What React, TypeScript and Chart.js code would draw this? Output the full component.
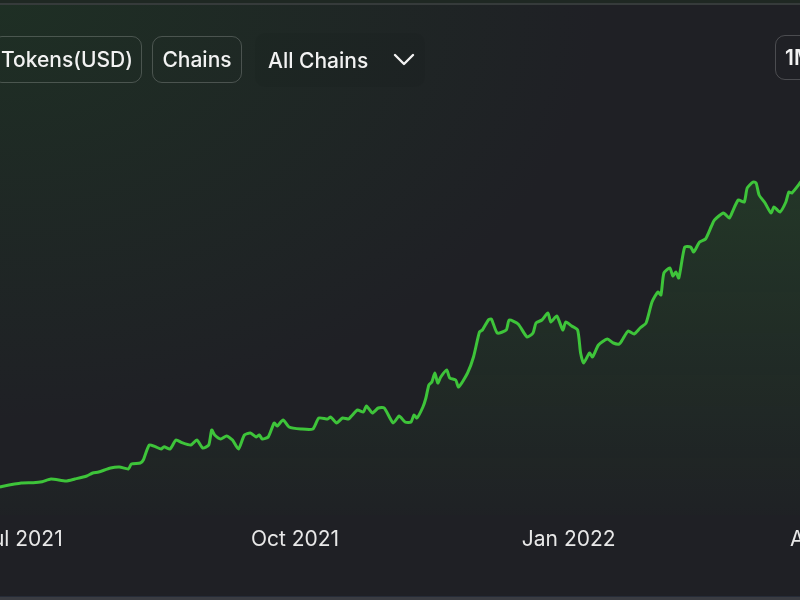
import React, { useEffect, useRef } from "react";
import { Chart, registerables } from "chart.js";

Chart.register(...registerables);

// Daily TVL samples (USD millions)
const dates: string[] = [
  "2021-06-23", "2021-06-24", "2021-07-01", "2021-07-05", "2021-07-08", "2021-07-11", "2021-07-16", "2021-07-19",
  "2021-07-23", "2021-07-25", "2021-07-27", "2021-07-31", "2021-08-03", "2021-08-06", "2021-08-07", "2021-08-10",
  "2021-08-11", "2021-08-13", "2021-08-15", "2021-08-17", "2021-08-18", "2021-08-20", "2021-08-22", "2021-08-24",
  "2021-08-27", "2021-08-29", "2021-08-31", "2021-09-02", "2021-09-03", "2021-09-04", "2021-09-06", "2021-09-08",
  "2021-09-10", "2021-09-12", "2021-09-14", "2021-09-16", "2021-09-18", "2021-09-19", "2021-09-20", "2021-09-22",
  "2021-09-24", "2021-09-25", "2021-09-27", "2021-09-29", "2021-10-03", "2021-10-07", "2021-10-09", "2021-10-12",
  "2021-10-13", "2021-10-15", "2021-10-17", "2021-10-19", "2021-10-20", "2021-10-22", "2021-10-24", "2021-10-25",
  "2021-10-27", "2021-10-29", "2021-10-31", "2021-11-03", "2021-11-05", "2021-11-07", "2021-11-09", "2021-11-10",
  "2021-11-11", "2021-11-13", "2021-11-14", "2021-11-15", "2021-11-16", "2021-11-17", "2021-11-18", "2021-11-19",
  "2021-11-21", "2021-11-22", "2021-11-24", "2021-11-25", "2021-11-28", "2021-11-30", "2021-12-02", "2021-12-03",
  "2021-12-05", "2021-12-06", "2021-12-08", "2021-12-11", "2021-12-12", "2021-12-15", "2021-12-18", "2021-12-20",
  "2021-12-21", "2021-12-23", "2021-12-25", "2021-12-26", "2021-12-28", "2021-12-30", "2021-12-31", "2022-01-02",
  "2022-01-04", "2022-01-05", "2022-01-06", "2022-01-08", "2022-01-09", "2022-01-11", "2022-01-14", "2022-01-16",
  "2022-01-18", "2022-01-19", "2022-01-21", "2022-01-23", "2022-01-25", "2022-01-27", "2022-01-29", "2022-01-31",
  "2022-02-01", "2022-02-02", "2022-02-04", "2022-02-05", "2022-02-06", "2022-02-07", "2022-02-09", "2022-02-11",
  "2022-02-12", "2022-02-14", "2022-02-16", "2022-02-18", "2022-02-19", "2022-02-22", "2022-02-24", "2022-02-25",
  "2022-02-27", "2022-03-01", "2022-03-02", "2022-03-04", "2022-03-05", "2022-03-06", "2022-03-08", "2022-03-10",
  "2022-03-11", "2022-03-13", "2022-03-15", "2022-03-16", "2022-03-17", "2022-03-20", "2022-03-21", "2022-03-23",
];

const tvl: number[] = [
  275, 283, 320, 323, 333, 360, 340, 360,
  390, 420, 430, 470, 480, 460, 510, 520,
  550, 700, 683, 660, 683, 660, 750, 723,
  700, 750, 670, 700, 850, 800, 760, 790,
  750, 660, 800, 820, 780, 800, 760, 780,
  920, 890, 950, 880, 860, 860, 970, 960,
  980, 920, 970, 960, 990, 1050, 1030, 1090,
  1020, 1070, 1070, 920, 990, 930, 930, 1000,
  970, 1080, 1170, 1300, 1330, 1420, 1320, 1380,
  1450, 1370, 1350, 1280, 1420, 1580, 1830, 1850,
  1950, 1960, 1820, 1850, 1950, 1910, 1780, 1820,
  1920, 1950, 2020, 1930, 1990, 1850, 1930, 1890,
  1850, 1620, 1520, 1620, 1580, 1700, 1760, 1720,
  1710, 1750, 1840, 1810, 1870, 1920, 2130, 2230,
  2200, 2420, 2470, 2390, 2430, 2370, 2680, 2680,
  2630, 2730, 2760, 2890, 2950, 3020, 2970, 3030,
  3150, 3130, 3270, 3330, 3320, 3200, 3120, 3020,
  3080, 3030, 3130, 3230, 3220, 3330, 3370, 3400,
];

const monthNames: string[] = ["Jan", "Feb", "Mar", "Apr", "May", "Jun", "Jul", "Aug", "Sep", "Oct", "Nov", "Dec"];
const tickDates: string[] = ["2021-07-01", "2021-10-01", "2022-01-01", "2022-04-01"];

const DAY = 86400000;
const BASE = Date.UTC(2021, 6, 1);
const X_MIN = BASE - 40.77 * DAY;
const X_MAX = BASE + 295.36 * DAY;

const LINE = "rgb(62,196,58)";
const FONT = "Inter, 'Noto Sans', sans-serif";

function ChartCanvas() {
  const ref = useRef<HTMLCanvasElement | null>(null);
  useEffect(() => {
    if (!ref.current) return;
    const chart = new Chart(ref.current, {
      type: "line",
      data: {
        datasets: [
          {
            data: dates.map((d, i) => ({ x: Date.parse(d), y: tvl[i] })),
            borderColor: LINE,
            borderWidth: 3,
            pointRadius: 0,
            tension: 0.2,
            fill: "origin",
            backgroundColor: (ctx: any) => {
              const area = ctx.chart.chartArea;
              if (!area) return "rgba(62,196,58,0.1)";
              const g = ctx.chart.ctx.createLinearGradient(0, area.top, 0, area.bottom);
              g.addColorStop(0, "rgba(62,196,58,0.17)");
              g.addColorStop(1, "rgba(62,196,58,0.01)");
              return g;
            },
          },
        ],
      },
      options: {
        responsive: true,
        maintainAspectRatio: false,
        animation: false,
        layout: { padding: { top: 100, bottom: 35, left: 0, right: 0 } },
        plugins: { legend: { display: false }, tooltip: { enabled: false } },
        scales: {
          x: {
            type: "linear",
            min: X_MIN,
            max: X_MAX,
            grid: { display: false, drawTicks: false },
            border: { display: false },
            afterBuildTicks: (scale: any) => {
              scale.ticks = tickDates.map((d) => ({ value: Date.parse(d) }));
            },
            afterFit: (scale: any) => {
              scale.height = 50;
            },
            ticks: {
              autoSkip: false,
              maxRotation: 0,
              padding: 12,
              color: "#e8e8e8",
              font: { family: FONT, size: 21, weight: "400" },
              callback: (v: any) => {
                const dt = new Date(Number(v));
                return monthNames[dt.getUTCMonth()] + " " + dt.getUTCFullYear();
              },
            },
          },
          y: { display: false, min: 0, max: 4150 },
        },
      },
    });
    return () => chart.destroy();
  }, []);
  return <canvas ref={ref} />;
}

const btn: React.CSSProperties = {
  position: "absolute",
  top: 36,
  height: 47,
  boxSizing: "border-box",
  border: "1px solid rgba(255,255,255,0.2)",
  borderRadius: 10,
  display: "flex",
  alignItems: "center",
  justifyContent: "center",
  color: "#f2f2f2",
  fontFamily: FONT,
  fontSize: 21,
  fontWeight: 500,
  whiteSpace: "nowrap",
};

export default function App() {
  return (
    <div
      style={{
        position: "fixed",
        left: 0,
        top: 0,
        width: 800,
        height: 600,
        overflow: "hidden",
        background:
          "radial-gradient(ellipse 75% 70% at 0% 0%, rgba(30,60,36,0.55) 0%, rgba(31,32,37,0) 100%), #1f2025",
      }}
    >
      <div style={{ position: "absolute", left: 0, top: 0, width: 800, height: 3, background: "#1f2823" }} />
      <div style={{ position: "absolute", left: 0, top: 3, width: 800, height: 2, background: "#363b3b" }} />
      <div style={{ position: "absolute", left: -100, top: 0, width: 1000, height: 600 }}>
        <ChartCanvas />
      </div>
      <div style={{ ...btn, left: -8, width: 150 }}>Tokens(USD)</div>
      <div style={{ ...btn, left: 152, width: 90 }}>Chains</div>
      <div
        style={{
          ...btn,
          left: 255,
          top: 33,
          height: 54,
          width: 170,
          border: "none",
          background: "rgba(0,0,0,0.04)",
          justifyContent: "flex-start",
          paddingLeft: 13,
        }}
      >
        <span>All Chains</span>
        <svg width="22" height="14" viewBox="0 0 22 14" style={{ marginLeft: 25 }}>
          <polyline points="2,2 11,11 20,2" fill="none" stroke="#f2f2f2" strokeWidth="2.4" strokeLinecap="round" strokeLinejoin="round" />
        </svg>
      </div>
      <div style={{ ...btn, left: 775, top: 35, height: 45, width: 60, justifyContent: "flex-start", paddingLeft: 9, fontWeight: 600 }}>
        1M
      </div>
      <div style={{ position: "absolute", left: 0, top: 596, width: 800, height: 1, background: "#262c38" }} />
      <div style={{ position: "absolute", left: 0, top: 597, width: 800, height: 3, background: "#3a3c42" }} />
    </div>
  );
}
